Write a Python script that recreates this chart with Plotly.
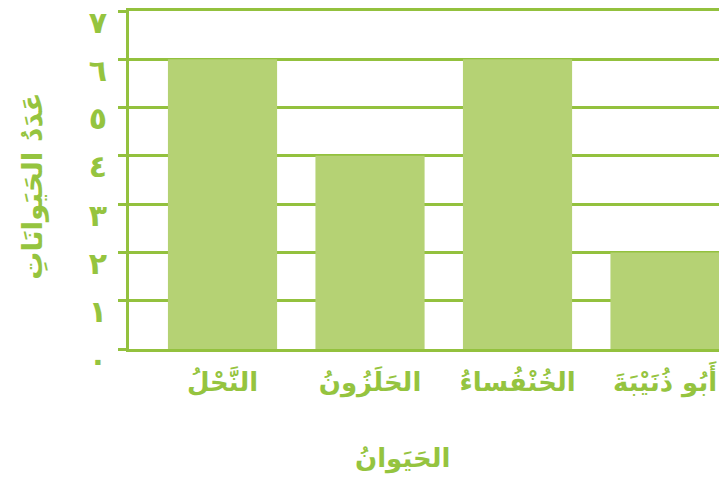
import plotly.graph_objects as go

categories = ["النَّحْلُ", "الحَلَزُونُ", "الخُنْفُساءُ", "أَبُو ذُنَيْبَةَ"]
values = [6, 4, 6, 2]
tick_vals = [0, 1, 2, 3, 4, 5, 6, 7]
tick_text = ["٠", "١", "٢", "٣", "٤", "٥", "٦", "٧"]
x_title = "الحَيَوانُ"
y_title = "عَدَدُ الحَيَوانَاتِ"

line_c = "#93c13e"
bar_c = "#b5d274"
text_c = "#95c43f"
font_fam = "DejaVu Sans, sans-serif"

fig = go.Figure(go.Bar(x=list(range(len(categories))), y=values,
                       marker=dict(color=bar_c, line=dict(width=0)),
                       width=0.74, hoverinfo="skip"))

fig.update_layout(
    width=719, height=488,
    margin=dict(l=129, r=0, t=11, b=139),
    paper_bgcolor="white", plot_bgcolor="white",
    showlegend=False,
    font=dict(family=font_fam, color=text_c),
    xaxis=dict(
        range=[-0.634, 3.366],
        automargin=False,
        tickvals=list(range(len(categories))), ticktext=categories,
        tickfont=dict(size=26, family=font_fam, color=text_c, weight="bold"),
        showgrid=False, zeroline=False,
        showline=True, mirror=True, linecolor=line_c, linewidth=3,
        ticks="", ticklabelstandoff=8, ticklabeloverflow="allow",
    ),
    yaxis=dict(
        range=[0, 7],
        automargin=False,
        tickvals=tick_vals, ticktext=tick_text,
        tickfont=dict(size=30, family=font_fam, color=text_c, weight="bold"),
        showgrid=True, gridcolor=line_c, gridwidth=3,
        zeroline=False,
        showline=True, linecolor=line_c, linewidth=3,
        ticks="outside", ticklen=8, tickwidth=3, tickcolor=line_c,
        ticklabelstandoff=5, ticklabelshift=11, ticklabeloverflow="allow",
    ),
    annotations=[
        dict(text=x_title, xref="paper", yref="paper", x=(402 - 129) / 590, y=-0.325,
             xanchor="center", yanchor="middle", showarrow=False,
             font=dict(size=26, family=font_fam, color=text_c, weight="bold")),
        dict(text=y_title, xref="paper", yref="paper", x=(33 - 129) / 590, y=0.48,
             xanchor="center", yanchor="middle", showarrow=False, textangle=-90,
             font=dict(size=28, family=font_fam, color=text_c, weight="bold")),
    ],
)

fig.write_html("out.html", config={"displayModeBar": False},
               post_script="document.body.style.margin='0';document.body.style.overflow='hidden';")
